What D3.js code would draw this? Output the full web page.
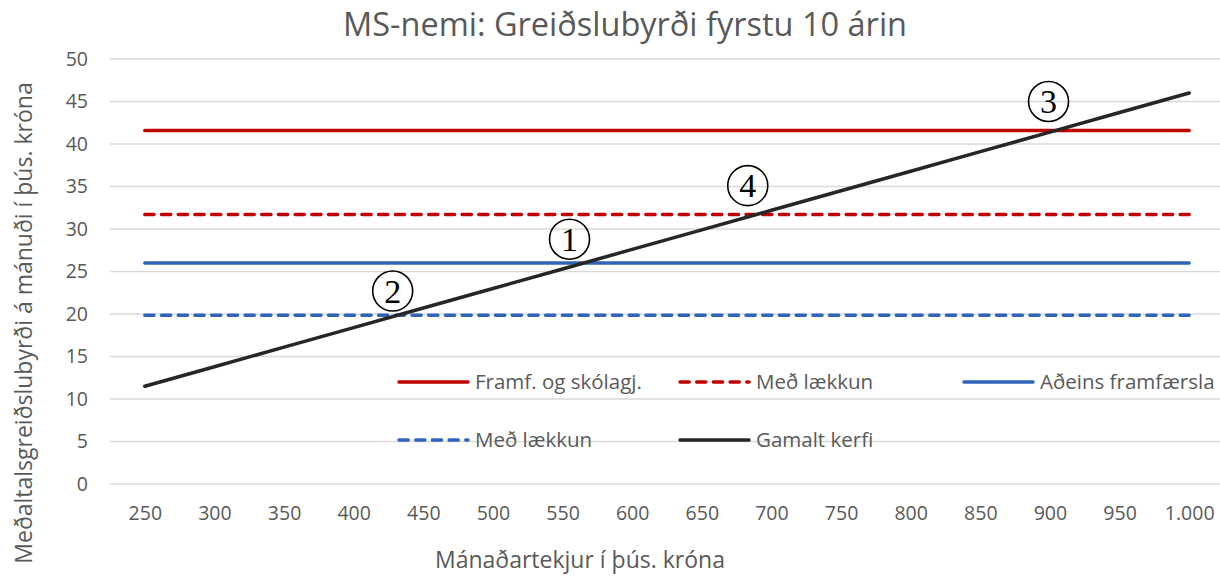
<!DOCTYPE html>
<html>
<head>
<meta charset="utf-8">
<script src="https://cdn.jsdelivr.net/npm/d3@7"></script>
<style>
  body { margin: 0; background: #fff; }
  text { font-family: "Open Sans", sans-serif; fill: #595959; }
  .grid line { stroke: #d9d9d9; stroke-width: 1.5; }
  .mark { font-family: "Liberation Serif", serif; fill: #000; }
</style>
</head>
<body>
<script>
// tekjur (þús. kr.) - category axis
var categories = [250, 300, 350, 400, 450, 500, 550, 600, 650, 700, 750, 800, 850, 900, 950, 1000];

// greiðslubyrði á mánuði (þús. kr.)
var framfOgSkolagj = [41.6, 41.6, 41.6, 41.6, 41.6, 41.6, 41.6, 41.6, 41.6, 41.6, 41.6, 41.6, 41.6, 41.6, 41.6, 41.6];
var medLaekkunRautt = [31.7, 31.7, 31.7, 31.7, 31.7, 31.7, 31.7, 31.7, 31.7, 31.7, 31.7, 31.7, 31.7, 31.7, 31.7, 31.7];
var adeinsFramfaersla = [26.0, 26.0, 26.0, 26.0, 26.0, 26.0, 26.0, 26.0, 26.0, 26.0, 26.0, 26.0, 26.0, 26.0, 26.0, 26.0];
var medLaekkunBlatt = [19.85, 19.85, 19.85, 19.85, 19.85, 19.85, 19.85, 19.85, 19.85, 19.85, 19.85, 19.85, 19.85, 19.85, 19.85, 19.85];
var gamaltKerfi = [11.5, 13.8, 16.1, 18.4, 20.7, 23.0, 25.3, 27.6, 29.9, 32.2, 34.5, 36.8, 39.1, 41.4, 43.7, 46.0];

var yTicks = [0, 5, 10, 15, 20, 25, 30, 35, 40, 45, 50];

// numbered markers at the crossing points [label, income, value]
var markers = [["1", 555, 28.8], ["2", 428, 22.7], ["3", 899, 45.0], ["4", 683, 35.1]];

var series = [
  {name: "Framf. og skólagj.", values: framfOgSkolagj, color: "#c00000", dash: null},
  {name: "Með lækkun", values: medLaekkunRautt, color: "#c00000", dash: "9.2,7.5"},
  {name: "Aðeins framfærsla", values: adeinsFramfaersla, color: "#3064ba", dash: null},
  {name: "Með lækkun", values: medLaekkunBlatt, color: "#3064ba", dash: "9.2,7.5"},
  {name: "Gamalt kerfi", values: gamaltKerfi, color: "#262626", dash: null}
];

var W = 1220, H = 576;
var plot = {left: 110, right: 1224, top: 59, bottom: 484};

var svg = d3.select("body").append("svg")
    .attr("width", W)
    .attr("height", H);

var x = d3.scaleLinear().domain([225, 1025]).range([plot.left, plot.right]);
var y = d3.scaleLinear().domain([0, 50]).range([plot.bottom, plot.top]);

var isFmt = function(d) { return d >= 1000 ? d3.format(",")(d).replace(",", ".") : d; };

// gridlines
svg.append("g")
    .attr("class", "grid")
  .selectAll("line")
  .data(yTicks)
  .enter().append("line")
    .attr("x1", plot.left)
    .attr("x2", 1220)
    .attr("y1", function(d) { return y(d); })
    .attr("y2", function(d) { return y(d); });

// y axis labels
var yAxis = svg.append("g")
    .attr("transform", "translate(" + (plot.left - 10) + ",0)")
    .call(d3.axisLeft(y).tickValues(yTicks).tickSize(0).tickPadding(12));
yAxis.select(".domain").remove();
yAxis.selectAll("text")
    .style("font-family", "Open Sans, sans-serif")
    .style("font-size", "19.5px")
    .attr("fill", "#595959");

// x axis labels
var xAxis = svg.append("g")
    .attr("transform", "translate(0," + plot.bottom + ")")
    .call(d3.axisBottom(x).tickValues(categories).tickFormat(isFmt).tickSize(0).tickPadding(22));
xAxis.select(".domain").remove();
xAxis.selectAll("text")
    .style("font-family", "Open Sans, sans-serif")
    .style("font-size", "19.5px")
    .attr("fill", "#595959");

// lines
var line = d3.line()
    .x(function(d, i) { return x(categories[i]); })
    .y(function(d) { return y(d); });

svg.selectAll(".series")
  .data(series)
  .enter().append("path")
    .attr("class", "series")
    .attr("fill", "none")
    .attr("stroke", function(d) { return d.color; })
    .attr("stroke-width", 3.5)
    .attr("stroke-linecap", "round")
    .attr("stroke-dasharray", function(d) { return d.dash; })
    .attr("d", function(d) { return line(d.values); });

// circled numbers
var mk = svg.selectAll(".marker")
  .data(markers)
  .enter().append("g")
    .attr("class", "marker")
    .attr("transform", function(d) { return "translate(" + x(d[1]) + "," + y(d[2]) + ")"; });
mk.append("circle")
    .attr("r", 20)
    .attr("fill", "none")
    .attr("stroke", "#000")
    .attr("stroke-width", 1.6);
mk.append("text")
    .attr("class", "mark")
    .attr("text-anchor", "middle")
    .attr("dy", "0.34em")
    .style("font-size", "34px")
    .text(function(d) { return d[0]; });

// legend
var legendPos = [[399, 382], [680, 382], [964, 382], [399, 440], [680, 440]];
var lg = svg.selectAll(".legend")
  .data(series)
  .enter().append("g")
    .attr("class", "legend")
    .attr("transform", function(d, i) { return "translate(" + legendPos[i][0] + "," + legendPos[i][1] + ")"; });
lg.append("line")
    .attr("x1", 0)
    .attr("x2", 69)
    .attr("stroke", function(d) { return d.color; })
    .attr("stroke-width", 3.5)
    .attr("stroke-linecap", "round")
    .attr("stroke-dasharray", function(d) { return d.dash; });
lg.append("text")
    .attr("x", 76)
    .attr("dy", "0.35em")
    .style("font-size", "20.5px")
    .text(function(d) { return d.name; });

// title
svg.append("text")
    .attr("x", 625)
    .attr("y", 25)
    .attr("dy", "0.35em")
    .attr("text-anchor", "middle")
    .style("font-size", "32.5px")
    .text("MS-nemi: Greiðslubyrði fyrstu 10 árin");

// axis titles
svg.append("text")
    .attr("x", 580)
    .attr("y", 560)
    .attr("dy", "0.35em")
    .attr("text-anchor", "middle")
    .style("font-size", "23px")
    .text("Mánaðartekjur í þús. króna");

svg.append("text")
    .attr("transform", "translate(24,323) rotate(-90)")
    .attr("dy", "0.35em")
    .attr("text-anchor", "middle")
    .style("font-size", "23px")
    .text("Meðaltalsgreiðslubyrði á mánuði í þús. króna");
</script>
</body>
</html>
